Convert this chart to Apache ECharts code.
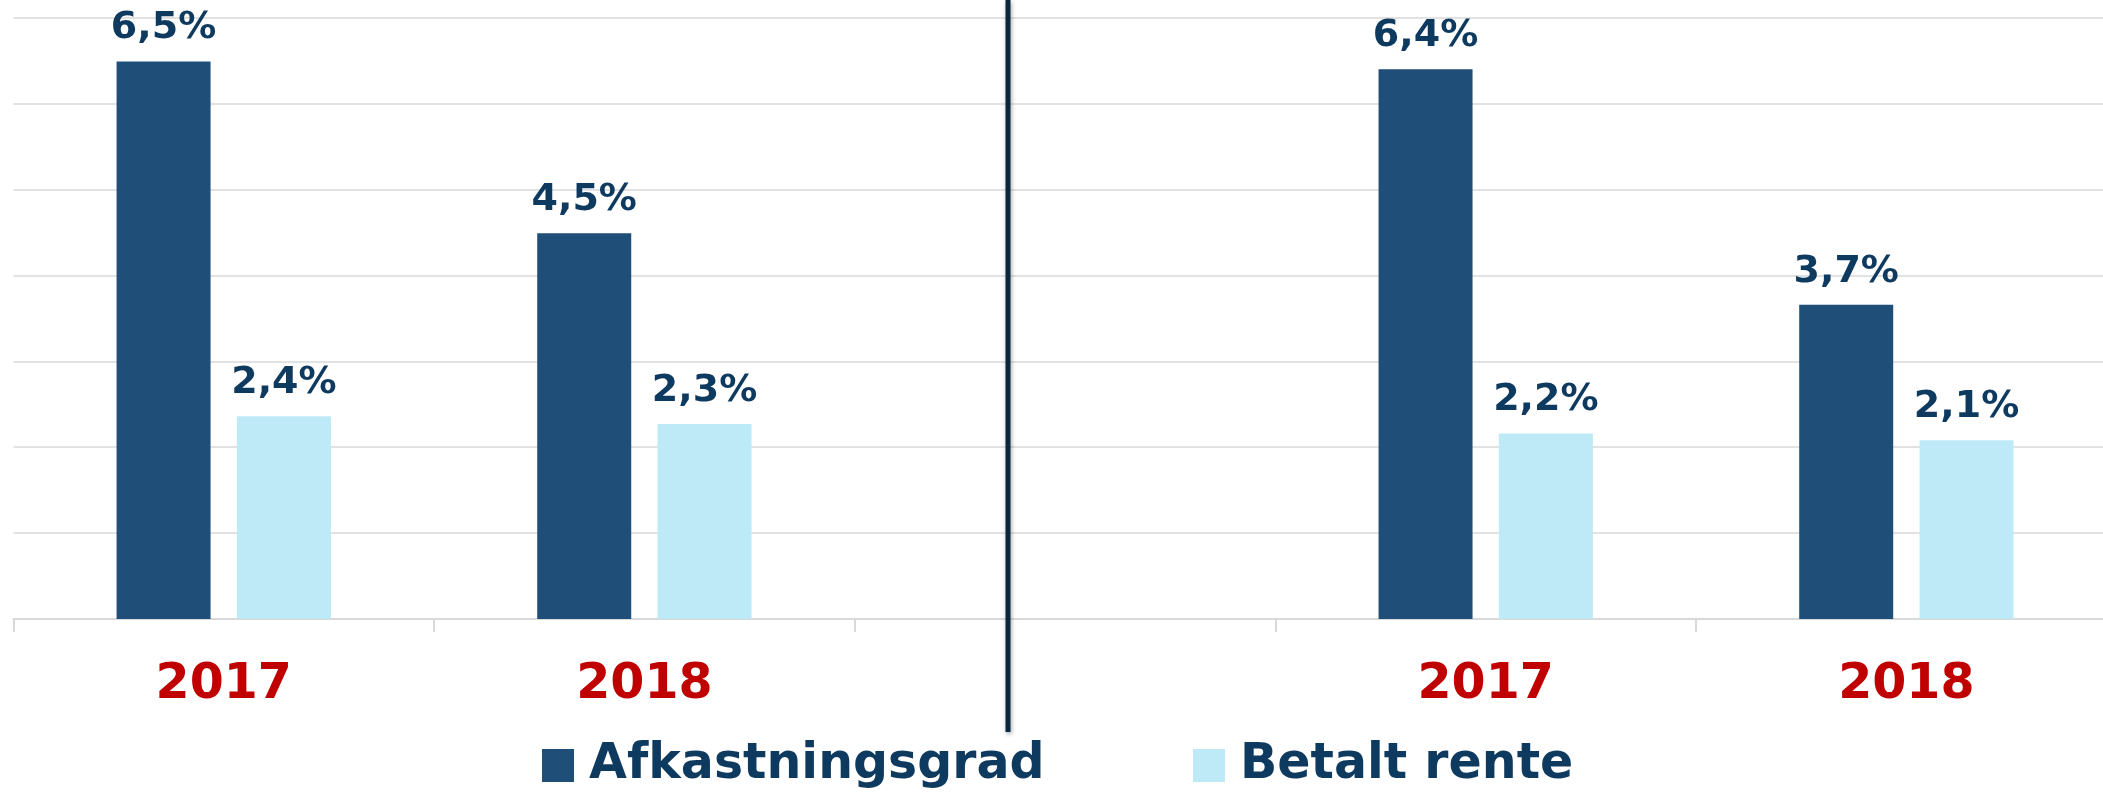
<!DOCTYPE html>
<html>
<head>
<meta charset="utf-8">
<script src="https://cdn.jsdelivr.net/npm/echarts@6/dist/echarts.min.js"></script>
<style>
html,body{margin:0;padding:0;background:#fff;}
#c{width:2103px;height:797px;}
</style>
</head>
<body>
<div id="c"></div>
<script>
const categories = ['2017', '2018', '', '2017', '2018'];
const afkastningsgrad = [6.49, 4.49, null, 6.40, 3.66];
const betaltRente = [2.36, 2.27, null, 2.16, 2.08];
const seriesNames = ['Afkastningsgrad', 'Betalt rente'];

const chart = echarts.init(document.getElementById('c'));
const labelFmt = p => p.value == null ? '' : p.value.toFixed(1).replace('.', ',') + '%';
const labelStyle = {
  show: true, position: 'top', distance: 14,
  formatter: labelFmt,
  color: '#0e3a5f', fontFamily: 'DejaVu Sans', fontWeight: 'bold', fontSize: 38
};
const legendText = {color: '#0e3a5f', fontFamily: 'DejaVu Sans', fontWeight: 'bold', fontSize: 49, lineHeight: 50, padding: [0, 0, 0, 10]};

chart.setOption({
  animation: false,
  grid: {left: 13.4, right: -13.7, top: 17.8, bottom: 178, containLabel: false, outerBoundsMode: 'none'},
  xAxis: {
    type: 'category',
    data: categories,
    axisLine: {lineStyle: {color: '#d9d9d9', width: 2}},
    axisTick: {show: true, length: 13, lineStyle: {color: '#d9d9d9', width: 2}},
    axisLabel: {color: '#c00000', fontFamily: 'DejaVu Sans', fontWeight: 'bold', fontSize: 49, margin: 42}
  },
  yAxis: {
    type: 'value', min: 0, max: 7, interval: 1,
    axisLabel: {show: false}, axisLine: {show: false}, axisTick: {show: false},
    splitLine: {lineStyle: {color: '#d9d9d9', width: 1.5}}
  },
  legend: [
    {data: [seriesNames[0]], left: 542, top: 740.5, itemWidth: 32, itemHeight: 33, itemGap: 0,
     icon: 'rect', textStyle: legendText, padding: 0},
    {data: [seriesNames[1]], left: 1193, top: 740.5, itemWidth: 32, itemHeight: 33, itemGap: 0,
     icon: 'rect', textStyle: legendText, padding: 0}
  ],
  graphic: [{
    type: 'line', z: 100,
    shape: {x1: 1008, y1: 0, x2: 1008, y2: 732},
    style: {stroke: '#0b2740', lineWidth: 5, shadowBlur: 4, shadowColor: 'rgba(0,0,0,0.35)', shadowOffsetX: 1, shadowOffsetY: 2}
  }],
  series: [
    {name: seriesNames[0], type: 'bar', data: afkastningsgrad, barWidth: 94, barGap: '28%',
     itemStyle: {color: '#1f4e79'}, label: labelStyle},
    {name: seriesNames[1], type: 'bar', data: betaltRente, barWidth: 94,
     itemStyle: {color: '#bdeaf6'}, label: labelStyle}
  ]
});
</script>
</body>
</html>
